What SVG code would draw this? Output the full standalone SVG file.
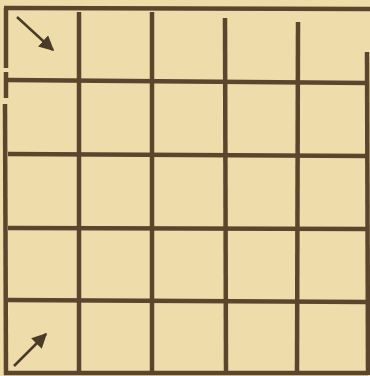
<svg xmlns="http://www.w3.org/2000/svg" width="370" height="376" viewBox="0 0 370 376">
<defs>
<style>
.g{stroke:#5b452c;stroke-width:4.5;stroke-linecap:butt;fill:none}
.a{stroke:#4a3a28;stroke-width:2.5;fill:none}
</style>
<marker id="ah" viewBox="0 0 10 10" refX="9" refY="5" markerWidth="6" markerHeight="6" orient="auto" markerUnits="strokeWidth">
<path d="M0,0 L10,5 L0,10 Z" fill="#4a3a28"/>
</marker>
</defs>
<rect width="370" height="376" fill="#efdcab"/>
<g id="grid" class="g">
<line x1="4" y1="8" x2="370" y2="9"/>
<line x1="4" y1="373" x2="368" y2="373"/>
<line x1="6" y1="8" x2="6" y2="68"/>
<line x1="6" y1="72" x2="6" y2="98"/>
<line x1="5" y1="104" x2="6" y2="375"/>
<line x1="367" y1="52" x2="368" y2="375"/>
<line x1="79" y1="12" x2="79" y2="373"/>
<line x1="152" y1="12" x2="152" y2="373"/>
<line x1="225" y1="18" x2="226" y2="373"/>
<line x1="298" y1="22" x2="297" y2="373"/>
<line x1="8" y1="80" x2="368" y2="83"/>
<line x1="8" y1="154" x2="368" y2="156"/>
<line x1="8" y1="228" x2="368" y2="229"/>
<line x1="8" y1="300" x2="368" y2="302"/>
</g>
<g id="arrows" class="a">
<line x1="17" y1="17" x2="53" y2="50" marker-end="url(#ah)"/>
<line x1="14" y1="366" x2="46" y2="334" marker-end="url(#ah)"/>
</g>
</svg>
